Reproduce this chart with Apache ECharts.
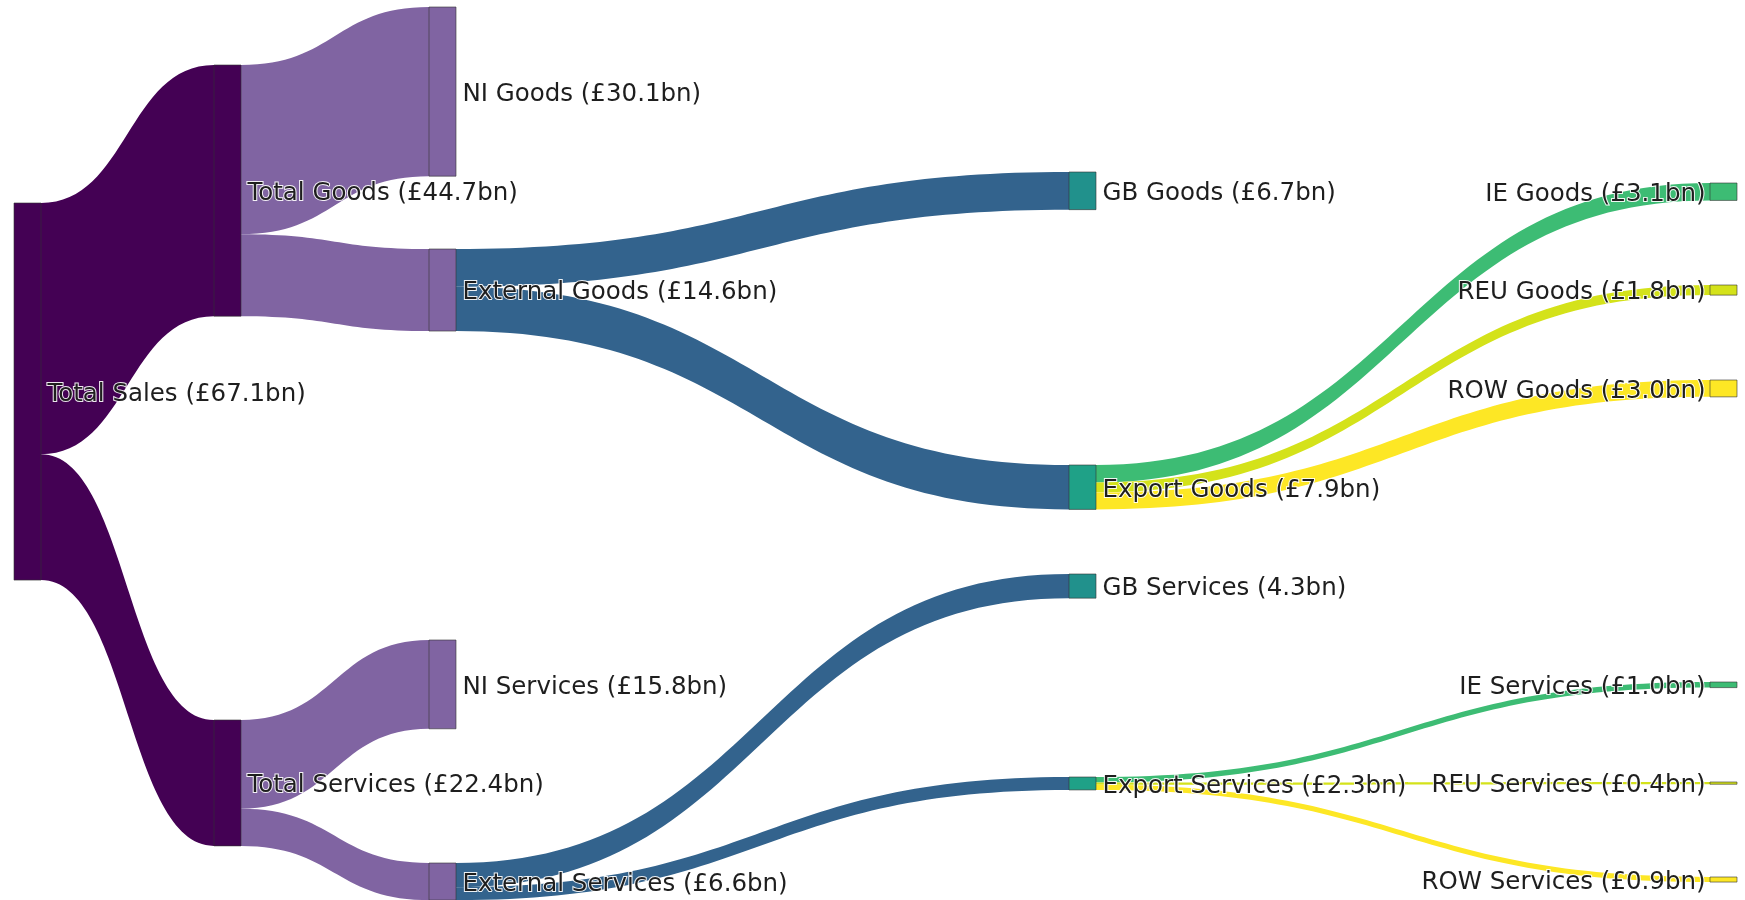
<!DOCTYPE html>
<html><head><meta charset="utf-8">
<script src="https://cdn.jsdelivr.net/npm/echarts@6/dist/echarts.min.js"></script>
<style>html,body{margin:0;padding:0;background:#fff}#c{width:1745px;height:900px}</style>
</head><body><div id="c"></div>
<script>
// ---------- DATA ----------
const nodeNames = ['Total Sales','Total Goods','Total Services','NI Goods','External Goods','NI Services','External Services','GB Goods','Export Goods','GB Services','Export Services','IE Goods','REU Goods','ROW Goods','IE Services','REU Services','ROW Services'];
const nodeLabels = ['Total Sales (£67.1bn)','Total Goods (£44.7bn)','Total Services (£22.4bn)','NI Goods (£30.1bn)','External Goods (£14.6bn)','NI Services (£15.8bn)','External Services (£6.6bn)','GB Goods (£6.7bn)','Export Goods (£7.9bn)','GB Services (4.3bn)','Export Services (£2.3bn)','IE Goods (£3.1bn)','REU Goods (£1.8bn)','ROW Goods (£3.0bn)','IE Services (£1.0bn)','REU Services (£0.4bn)','ROW Services (£0.9bn)'];
const linkSources = ['Total Sales','Total Sales','Total Goods','Total Goods','Total Services','Total Services','External Goods','External Goods','External Services','External Services','Export Goods','Export Goods','Export Goods','Export Services','Export Services','Export Services'];
const linkTargets = ['Total Goods','Total Services','NI Goods','External Goods','NI Services','External Services','GB Goods','Export Goods','GB Services','Export Services','IE Goods','REU Goods','ROW Goods','IE Services','REU Services','ROW Services'];
const linkValues = [44.7,22.4,30.1,14.6,15.8,6.6,6.7,7.9,4.3,2.3,3.1,1.8,3.0,1.0,0.4,0.9];

// ---------- LAYOUT (node placement, like plotly node.x / node.y) ----------
const W = 1745, H = 900;
const nodeXFrac = [14,214,214,429,429,429,429,1069,1069,1069,1069,1710,1710,1710,1710,1710,1710].map(v => v / W);
const nodeYFrac = [203,65,720,7,249,640,863,172,465,574,777,183,285,380,682,782,877].map(v => v / H);
const pxPerUnit = 5.62;                 // vertical scale (px per £bn)
const rootTotal = 67.1;
const scaleH = pxPerUnit * rootTotal;   // series height that yields that scale

// ---------- STYLES ----------
const nodeColors = ['#440154','#440154','#440154','#8064a2','#8064a2','#8064a2','#8064a2','#21918c','#1fa187','#21918c','#1fa187','#3dbc74','#d4e21a','#fde725','#3dbc74','#d4e21a','#fde725'];
const linkColors = ['#440154','#440154','#8064a2','#8064a2','#8064a2','#8064a2','#33638d','#33638d','#33638d','#33638d','#3dbc74','#d4e21a','#fde725','#3dbc74','#d4e21a','#fde725'];
const leafCol = 1710 / W;

const nodes = nodeNames.map((n, i) => ({
  name: n,
  localX: nodeXFrac[i],
  localY: nodeYFrac[i] * H / scaleH,
  itemStyle: { color: nodeColors[i], borderColor: 'rgba(50,50,50,0.75)', borderWidth: 0.8 },
  label: nodeXFrac[i] >= leafCol ? { position: 'left', distance: 4 } : { position: 'right', distance: 6 }
}));
const links = linkSources.map((s, i) => ({
  source: s, target: linkTargets[i], value: linkValues[i],
  lineStyle: { color: linkColors[i], opacity: 1 }
}));

const chart = echarts.init(document.getElementById('c'), null, { renderer: 'canvas' });
chart.setOption({
  animation: false,
  backgroundColor: '#fff',
  series: [{
    type: 'sankey',
    left: 0, top: 0, width: W, height: scaleH,
    nodeWidth: 27, nodeGap: 0,
    nodeAlign: 'left',
    layoutIterations: 0,
    draggable: false,
    emphasis: { disabled: true },
    data: nodes,
    links: links,
    lineStyle: { curveness: 0.5, opacity: 1 },
    label: {
      show: true,
      fontFamily: 'DejaVu Sans',
      fontSize: 24.5,
      color: '#1e1e1e',
      offset: [0, 3],
      textBorderColor: 'rgba(255,255,255,0.9)',
      textBorderWidth: 2,
      formatter: p => nodeLabels[nodeNames.indexOf(p.name)]
    }
  }]
});
</script>
</body></html>
